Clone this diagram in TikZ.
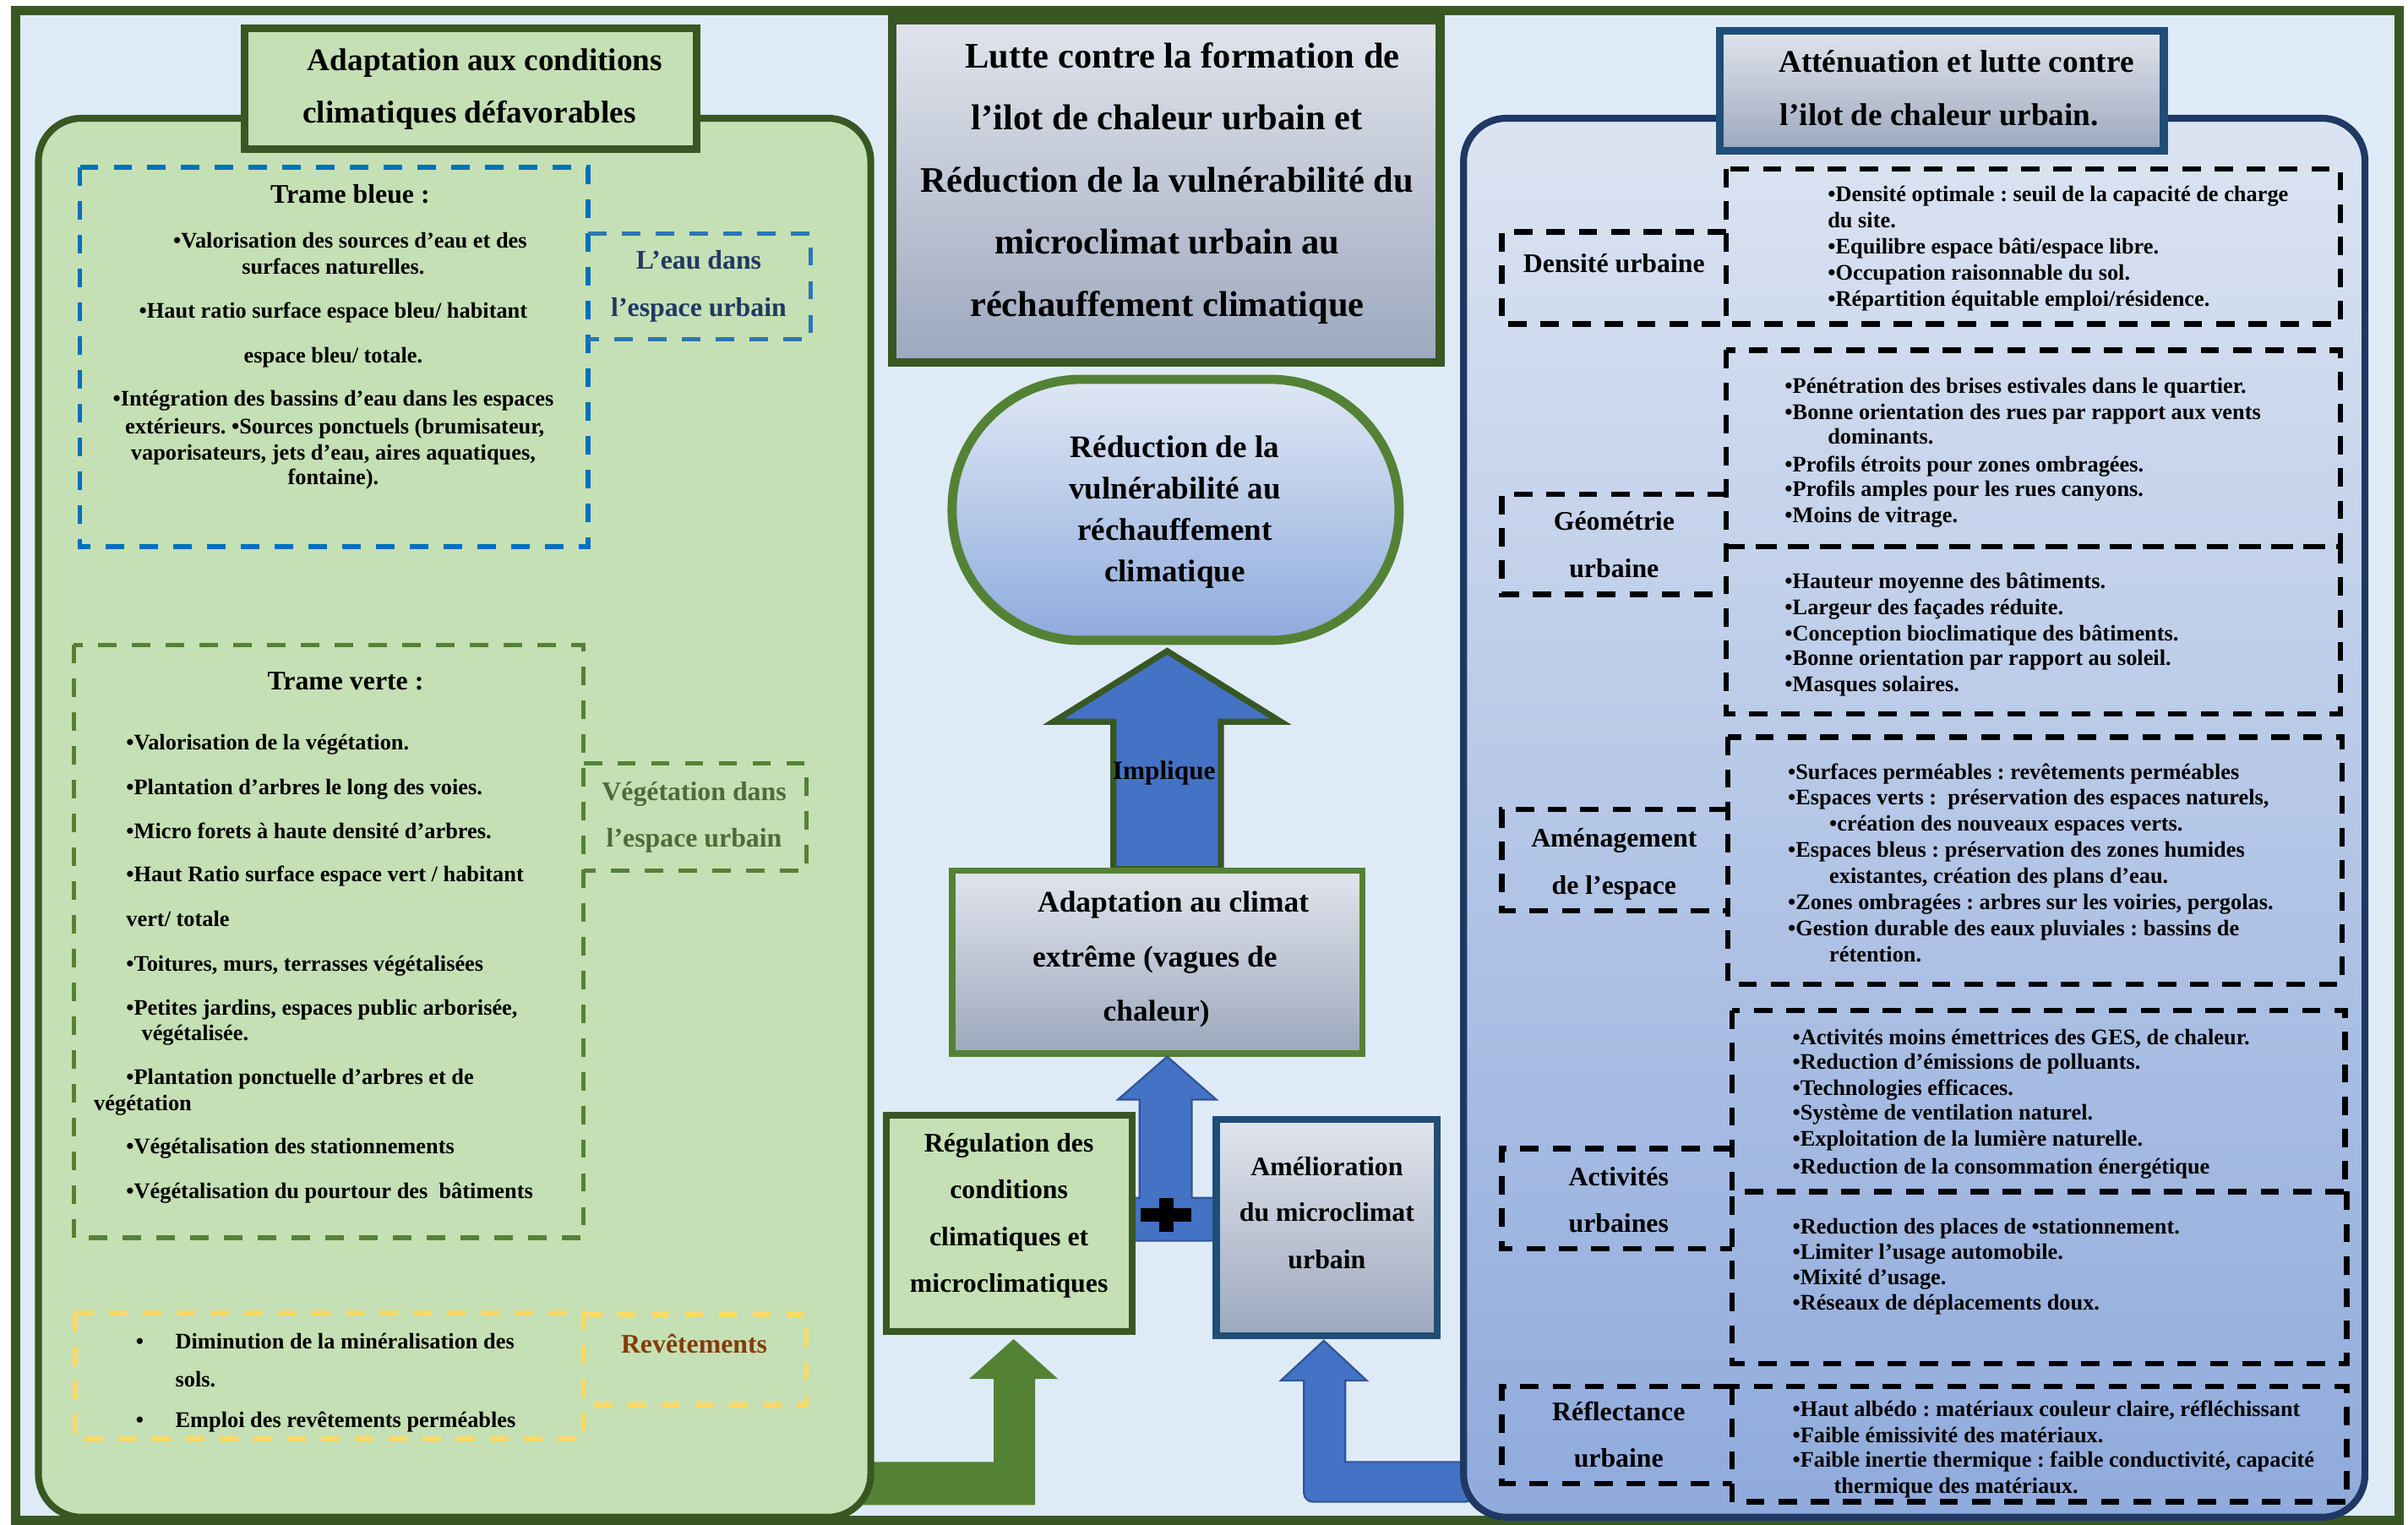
\documentclass[tikz,border=0pt]{standalone}
\usepackage{fontspec}
\setmainfont{Liberation Serif}
\frenchspacing
\definecolor{bgblue}{HTML}{DEEBF7}
\definecolor{dkgreen}{HTML}{385723}
\definecolor{ltgreen}{HTML}{C5E0B4}
\definecolor{mdgreen}{HTML}{548235}
\definecolor{acblue}{HTML}{4472C4}
\definecolor{olblue}{HTML}{2F5597}
\definecolor{navy}{HTML}{1F3864}
\definecolor{tbblue}{HTML}{1F4E79}
\definecolor{dashblue}{HTML}{0070C0}
\definecolor{dashblueb}{HTML}{2E75B6}
\definecolor{dashyellow}{HTML}{FFD966}
\definecolor{revbrown}{HTML}{843C0C}
\definecolor{greytop}{HTML}{E1E4EC}
\definecolor{greybot}{HTML}{9DA8BE}
\definecolor{paneltop}{HTML}{DCE4F2}
\definecolor{panelbot}{HTML}{8FAADC}
\definecolor{elltop}{HTML}{E0E7F4}
\definecolor{ellbot}{HTML}{8EABDD}
\definecolor{vegtext}{HTML}{4F6B38}
\begin{document}
\begin{tikzpicture}[x=1pt,y=-1pt,
  body/.style={font=\bfseries\fontsize{14.5}{17}\selectfont, inner sep=0pt, anchor=mid west, yshift=-3pt},
  bodyc/.style={body, anchor=mid},
  lab/.style={font=\bfseries\fontsize{17.5}{20}\selectfont, inner sep=0pt, anchor=mid, yshift=-4pt},
  ttl/.style={font=\bfseries\fontsize{20.5}{24}\selectfont, inner sep=0pt, anchor=mid west, yshift=-4.5pt},
  big/.style={font=\bfseries\fontsize{23.4}{27}\selectfont, inner sep=0pt, anchor=mid, yshift=-5pt},
  ell/.style={font=\bfseries\fontsize{20.4}{24}\selectfont, inner sep=0pt, anchor=mid, yshift=-4.5pt},
  adap/.style={font=\bfseries\fontsize{19.5}{23}\selectfont, inner sep=0pt, anchor=mid, yshift=-4.5pt},
  dbluebox/.style={draw=dashblue, line width=3pt, dash pattern=on 12pt off 10pt},
  dblueboxb/.style={draw=dashblueb, line width=3pt, dash pattern=on 12pt off 10pt},
  dgreenbox/.style={draw=mdgreen, line width=3pt, dash pattern=on 12pt off 10pt},
  dyellowbox/.style={draw=dashyellow, line width=3pt, dash pattern=on 12pt off 10pt},
  dblackbox/.style={draw=black, line width=3.5pt, dash pattern=on 12pt off 9pt},
  greyshade/.style={top color=greytop, bottom color=greybot},
]
\useasboundingbox (0,0) rectangle (1568,993);
\fill[white] (0,0) rectangle (1568,993);
% outer frame
\draw[dkgreen, line width=6pt, fill=bgblue] (10,7) rectangle (1562,990);

% bottom connecting arrows (under panels)
\fill[mdgreen] (555,980) -- (674,980) -- (674,898) -- (689,898) -- (660,872) -- (631,898) -- (647,898) -- (647,952) -- (555,952) -- cycle;
\draw[olblue, line width=1.2pt, fill=acblue] (960,952) -- (876,952) -- (876,899) -- (890,899) -- (862,873) -- (834,899) -- (849,899) [rounded corners=6pt] -- (849,978) -- (960,978) [sharp corners] -- cycle;

% left panel
\draw[dkgreen, line width=4.5pt, fill=ltgreen, rounded corners=28pt] (25,77) rectangle (567,988);
% right panel
\draw[navy, line width=4.5pt, top color=paneltop, bottom color=panelbot, rounded corners=28pt] (953,77) rectangle (1540,988);

% title boxes
\draw[dkgreen, line width=5pt, fill=ltgreen] (159.5,18.5) rectangle (453.5,97);
\node[ttl] (lt1) at (200,39) {Adaptation aux conditions};
\node[ttl] (lt2) at (197,73) {climatiques défavorables};

\draw[tbblue, line width=5pt, greyshade] (1120,20) rectangle (1409,98);
\node[ttl] (rt1) at (1158,40) {Atténuation et lutte contre};
\node[ttl] (rt2) at (1159,75) {l’ilot de chaleur urbain.};

\draw[dkgreen, line width=6pt, greyshade] (581,13) rectangle (938,236);
\node[big] (ct1) at (770,37) {Lutte contre la formation de};
\node[big] (ct2) at (760,77) {l’ilot de chaleur urbain et};
\node[big] (ct3) at (760,118) {Réduction de la vulnérabilité du};
\node[big] (ct4) at (760,158) {microclimat urbain au};
\node[big] (ct5) at (760,199) {réchauffement climatique};

% stadium
\draw[mdgreen, line width=6pt, top color=elltop, bottom color=ellbot, rounded corners=84pt] (620,247) rectangle (911,417);
\node[ell] (el1) at (765,291) {Réduction de la};
\node[ell] (el2) at (765,318) {vulnérabilité au};
\node[ell] (el3) at (765,345) {réchauffement};
\node[ell] (el4) at (765,372) {climatique};

% implique arrow
\draw[dkgreen, line width=4pt, fill=acblue] (725,566) -- (725,470) -- (686,470) -- (760,424) -- (834,470) -- (795,470) -- (795,566) -- cycle;
\node[lab, font=\bfseries\fontsize{17.2}{20}\selectfont] (impl) at (758,501) {Implique};

% adaptation box
\draw[mdgreen, line width=4pt, greyshade] (620,567) rectangle (887,686);
\node[adap] (ad1) at (764,587) {Adaptation au climat};
\node[adap] (ad2) at (752,623) {extrême (vagues de};
\node[adap] (ad3) at (753,658) {chaleur)};

% small arrow with plus
\draw[olblue, line width=1.2pt, fill=acblue] (736,808) -- (794,808) -- (794,780) -- (776,780) -- (776,716) -- (792,716) -- (760,688) -- (728,716) -- (742,716) -- (742,780) -- (736,780) -- cycle;

% regulation and amelioration boxes
\draw[dkgreen, line width=4.5pt, fill=ltgreen] (577,726) rectangle (737,867);
\node[lab] (rg1) at (657,744) {Régulation des};
\node[lab] (rg2) at (657,774) {conditions};
\node[lab] (rg3) at (657,805) {climatiques et};
\node[lab] (rg4) at (657,835) {microclimatiques};

\draw[tbblue, line width=4.5pt, greyshade] (792,729) rectangle (936,870);
\node[lab] (am1) at (864,759) {Amélioration};
\node[lab] (am2) at (864,789) {du microclimat};
\node[lab] (am3) at (864,820) {urbain};

\fill[black] (743,786.5) rectangle (776,795.5);
\fill[black] (755,780) rectangle (764,802);

% ---- left dashed boxes ----
\draw[dbluebox] (52,109) rectangle (383,356);
\draw[dblueboxb] (383,152) -- (528,152) -- (528,221) -- (383,221);
\node[lab] (tb0) at (228,126) {Trame bleue :};
\node[bodyc] (tb1) at (228,156) {•Valorisation des sources d’eau et des};
\node[bodyc] (tb2) at (217,173) {surfaces naturelles.};
\node[bodyc] (tb3) at (217,202) {•Haut ratio surface espace bleu/ habitant};
\node[bodyc] (tb4) at (217,231) {espace bleu/ totale.};
\node[bodyc] (tb5) at (217,259) {•Intégration des bassins d’eau dans les espaces};
\node[bodyc] (tb6) at (218,277) {extérieurs. •Sources ponctuels (brumisateur,};
\node[bodyc] (tb7) at (217,294) {vaporisateurs, jets d’eau, aires aquatiques,};
\node[bodyc] (tb8) at (217,310) {fontaine).};
\node[lab, text=navy] (eau1) at (455,169) {L’eau dans};
\node[lab, text=navy] (eau2) at (455,200) {l’espace urbain};

\draw[dgreenbox] (48,420) rectangle (380,806);
\draw[dgreenbox] (380,497) -- (525,497) -- (525,567) -- (380,567);
\node[lab] (tv0) at (225,443) {Trame verte :};
\node[body] (tv1) at (82,483) {•Valorisation de la végétation.};
\node[body] (tv2) at (82,512) {•Plantation d’arbres le long des voies.};
\node[body] (tv3) at (82,541) {•Micro forets à haute densité d’arbres.};
\node[body] (tv4) at (82,569) {•Haut Ratio surface espace vert / habitant};
\node[body] (tv5) at (82,598) {vert/ totale};
\node[body] (tv6) at (82,627) {•Toitures, murs, terrasses végétalisées};
\node[body] (tv7) at (82,656) {•Petites jardins, espaces public arborisée,};
\node[body] (tv8) at (92,672) {végétalisée.};
\node[body] (tv9) at (82,701) {•Plantation ponctuelle d’arbres et de};
\node[body] (tv10) at (61,718) {végétation};
\node[body] (tv11) at (82,746) {•Végétalisation des stationnements};
\node[body] (tv12) at (82,775) {•Végétalisation du pourtour des\ \ bâtiments};
\node[lab, text=vegtext] (veg1) at (452,515) {Végétation dans};
\node[lab, text=vegtext] (veg2) at (452,545) {l’espace urbain};

\draw[dyellowbox] (49,855) rectangle (380,937);
\draw[dyellowbox] (380,856) -- (525,856) -- (525,915) -- (380,915);
\node[bodyc] (rb1) at (91,873) {•};
\node[body] (rv1) at (114,873) {Diminution de la minéralisation des};
\node[body] (rv2) at (114,898) {sols.};
\node[bodyc] (rb2) at (91,924) {•};
\node[body] (rv3) at (114,924) {Emploi des revêtements perméables};
\node[lab, text=revbrown] (rev) at (452,875) {Revêtements};

% ---- right dashed boxes ----
\draw[dblackbox] (1124,110) rectangle (1524,211);
\draw[dblackbox] (1124,151) -- (978,151) -- (978,211) -- (1124,211);
\node[lab] (dl1) at (1051,171) {Densité urbaine};
\node[body] (d1) at (1190,126) {•Densité optimale : seuil de la capacité de charge};
\node[body] (d2) at (1190,143) {du site.};
\node[body] (d3) at (1190,160) {•Equilibre espace bâti/espace libre.};
\node[body] (d4) at (1190,177) {•Occupation raisonnable du sol.};
\node[body] (d5) at (1190,194) {•Répartition équitable emploi/résidence.};

\draw[dblackbox] (1124,228) rectangle (1524,356);
\draw[dblackbox] (1124,356) -- (1524,356) -- (1524,465) -- (1124,465) -- cycle;
\draw[dblackbox] (1124,322) -- (978,322) -- (978,387) -- (1124,387);
\node[lab] (gl1) at (1051,339) {Géométrie};
\node[lab] (gl2) at (1051,370) {urbaine};
\node[body] (g1) at (1162,251) {•Pénétration des brises estivales dans le quartier.};
\node[body] (g2) at (1162,268) {•Bonne orientation des rues par rapport aux vents};
\node[body] (g3) at (1190,284) {dominants.};
\node[body] (g4) at (1162,302) {•Profils étroits pour zones ombragées.};
\node[body] (g5) at (1162,318) {•Profils amples pour les rues canyons.};
\node[body] (g6) at (1162,335) {•Moins de vitrage.};
\node[body] (g7) at (1162,378) {•Hauteur moyenne des bâtiments.};
\node[body] (g8) at (1162,395) {•Largeur des façades réduite.};
\node[body] (g9) at (1162,412) {•Conception bioclimatique des bâtiments.};
\node[body] (g10) at (1162,428) {•Bonne orientation par rapport au soleil.};
\node[body] (g11) at (1162,445) {•Masques solaires.};

\draw[dblackbox] (1125,480) rectangle (1525,641);
\draw[dblackbox] (1125,527) -- (978,527) -- (978,593) -- (1125,593);
\node[lab] (al1) at (1051,545) {Aménagement};
\node[lab] (al2) at (1051,576) {de l’espace};
\node[body] (a1) at (1164,502) {•Surfaces perméables : revêtements perméables};
\node[body] (a2) at (1164,519) {•Espaces verts :\ \ préservation des espaces naturels,};
\node[body] (a3) at (1191,536) {•création des nouveaux espaces verts.};
\node[body] (a4) at (1164,553) {•Espaces bleus : préservation des zones humides};
\node[body] (a5) at (1191,570) {existantes, création des plans d’eau.};
\node[body] (a6) at (1164,587) {•Zones ombragées : arbres sur les voiries, pergolas.};
\node[body] (a7) at (1164,604) {•Gestion durable des eaux pluviales : bassins de};
\node[body] (a8) at (1191,621) {rétention.};

\draw[dblackbox] (1128,658) rectangle (1527,776);
\draw[dblackbox] (1528,776) -- (1528,888) -- (1128,888) -- (1128,776);
\draw[dblackbox] (1128,748) -- (978,748) -- (978,813) -- (1128,813);
\node[lab] (acl1) at (1054,766) {Activités};
\node[lab] (acl2) at (1054,796) {urbaines};
\node[body] (c1) at (1167,675) {•Activités moins émettrices des GES, de chaleur.};
\node[body] (c2) at (1167,691) {•Reduction d’émissions de polluants.};
\node[body] (c3) at (1167,708) {•Technologies efficaces.};
\node[body] (c4) at (1167,724) {•Système de ventilation naturel.};
\node[body] (c5) at (1167,741) {•Exploitation de la lumière naturelle.};
\node[body] (c6) at (1167,759) {•Reduction de la consommation énergétique};
\node[body] (c7) at (1167,798) {•Reduction des places de •stationnement.};
\node[body] (c8) at (1167,815) {•Limiter l’usage automobile.};
\node[body] (c9) at (1167,831) {•Mixité d’usage.};
\node[body] (c10) at (1167,848) {•Réseaux de déplacements doux.};

\draw[dblackbox] (1128,903) rectangle (1528,978);
\draw[dblackbox] (1128,903) -- (978,903) -- (978,966) -- (1128,966);
\node[lab] (fl1) at (1054,919) {Réflectance};
\node[lab] (fl2) at (1054,949) {urbaine};
\node[body] (f1) at (1167,917) {•Haut albédo : matériaux couleur claire, réfléchissant};
\node[body] (f2) at (1167,934) {•Faible émissivité des matériaux.};
\node[body] (f3) at (1167,950) {•Faible inertie thermique : faible conductivité, capacité};
\node[body] (f4) at (1194,967) {thermique des matériaux.};
\end{tikzpicture}
\end{document}
